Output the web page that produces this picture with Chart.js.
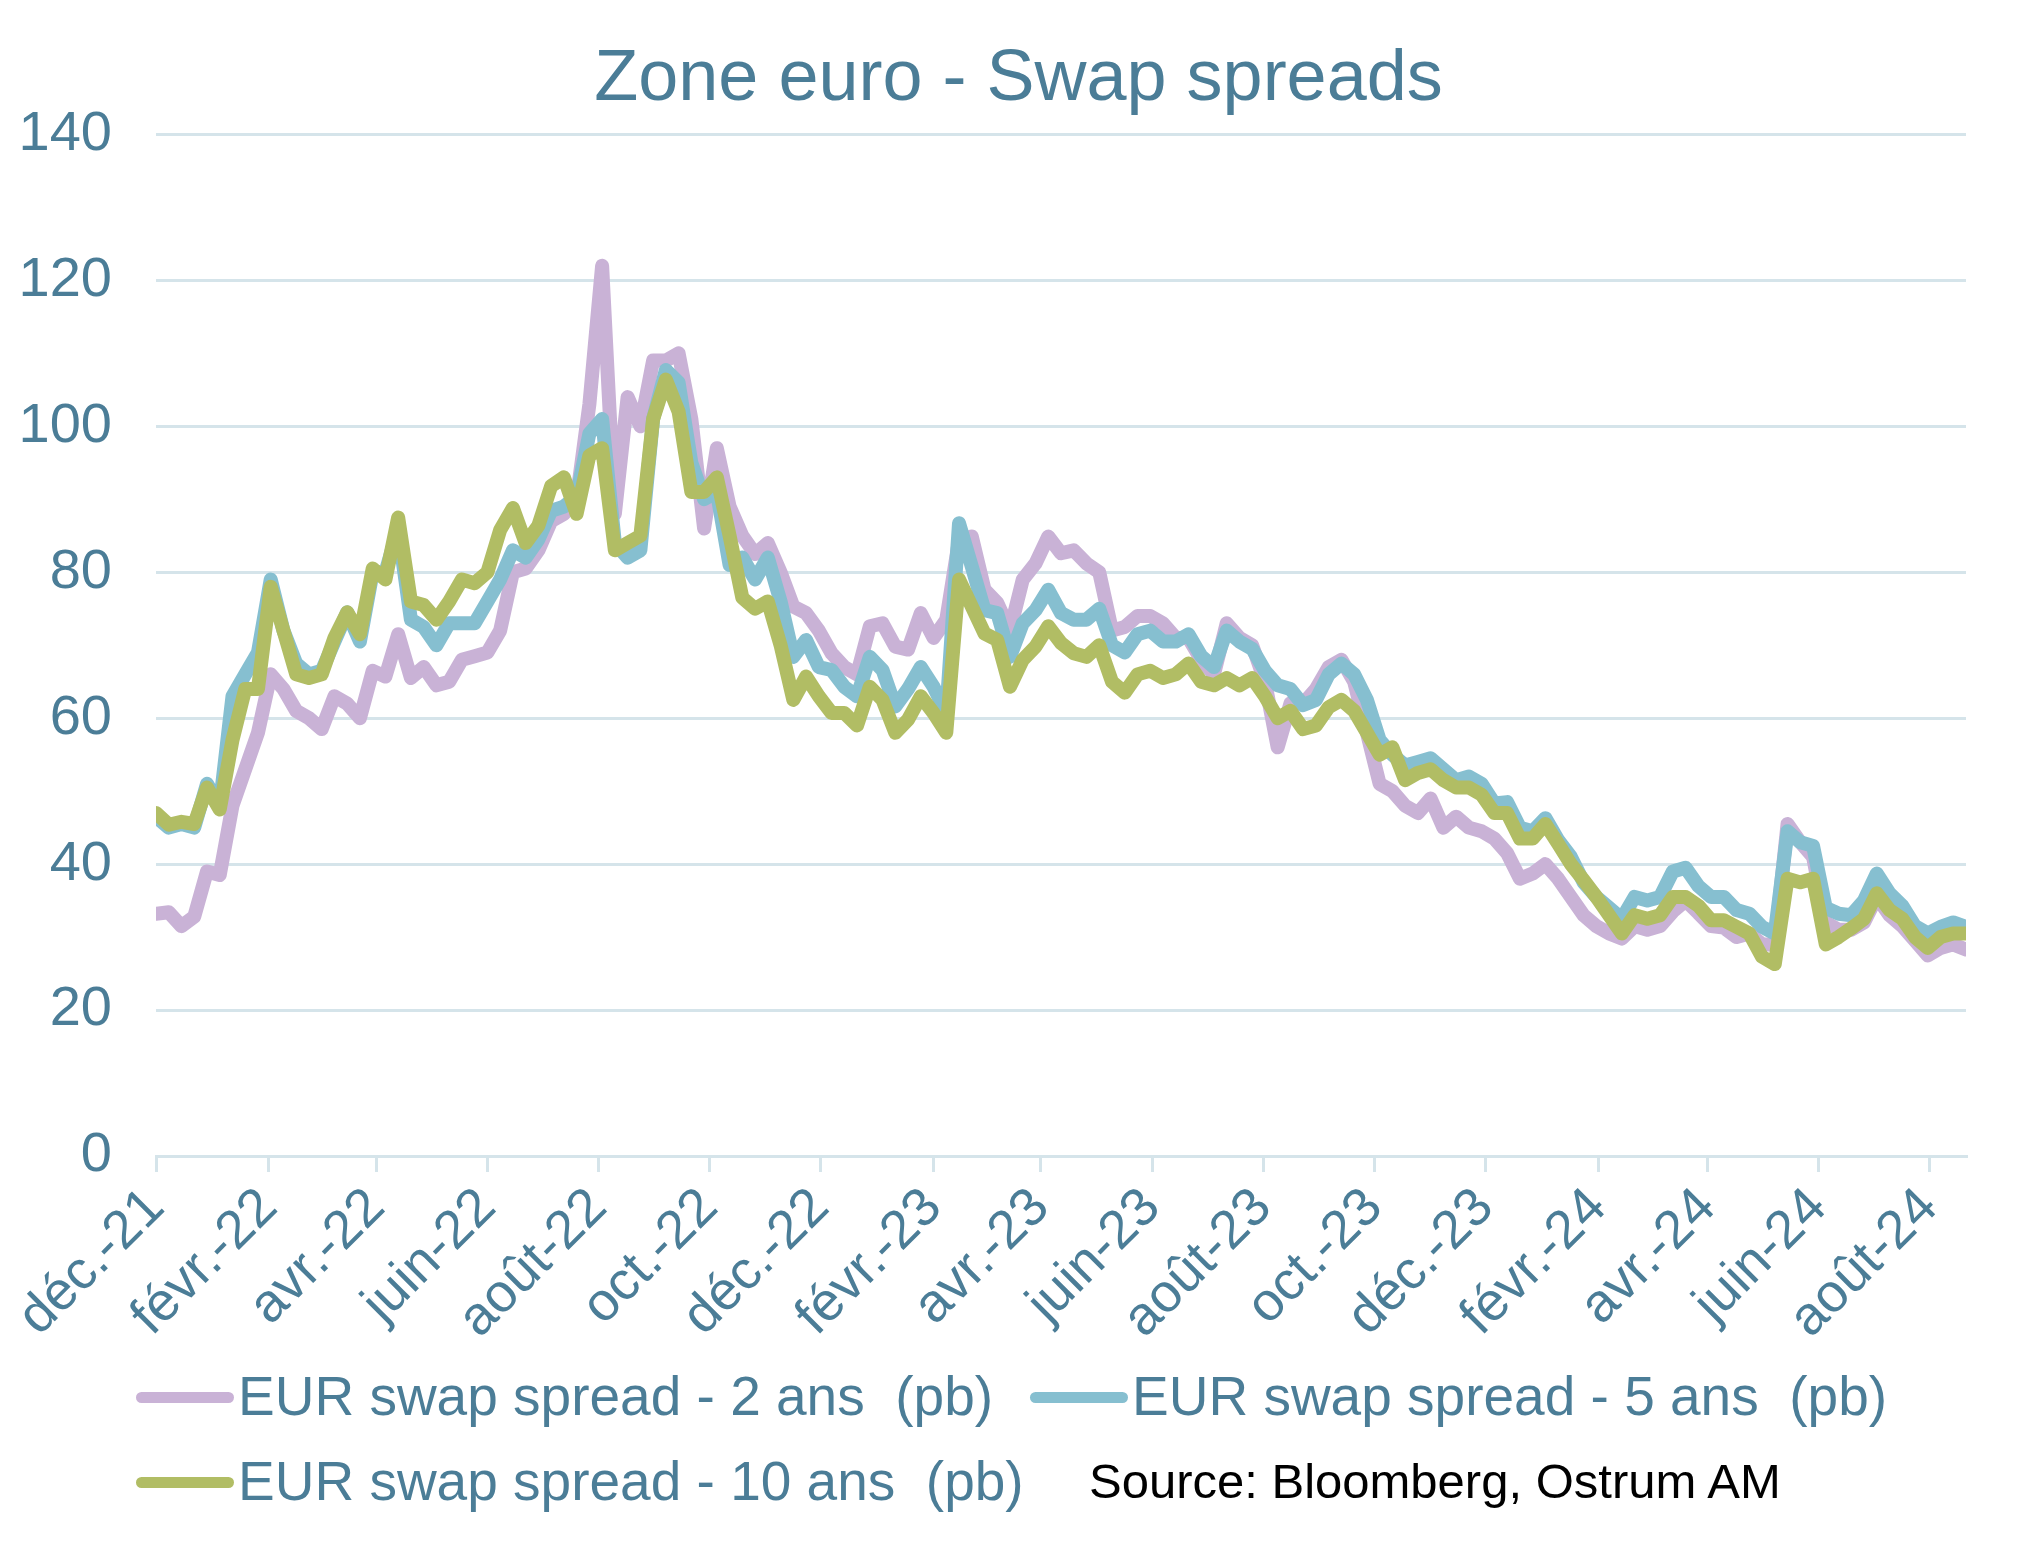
<!DOCTYPE html>
<html lang="fr">
<head>
<meta charset="utf-8">
<title>Zone euro - Swap spreads</title>
<script src="https://cdn.jsdelivr.net/npm/chart.js@4.4.1/dist/chart.umd.min.js"></script>
<style>
  html, body { margin: 0; padding: 0; background: #ffffff; }
  #wrap { position: relative; width: 2037px; height: 1549px; }
  .legend-item {
    position: absolute; height: 60px; line-height: 60px; white-space: pre;
    font-family: 'Liberation Sans', Arial, sans-serif; font-size: 55px; color: #4b7d97;
  }
  .legend-item .swatch {
    display: inline-block; width: 98px; height: 11px; border-radius: 6px;
    vertical-align: middle; margin-right: 4px; position: relative; top: -3px;
  }
  #source {
    position: absolute; height: 60px; line-height: 60px; white-space: pre;
    font-family: 'Liberation Sans', Arial, sans-serif; font-size: 49px; color: #000000;
  }
</style>
</head>
<body>
<div id="wrap">
  <canvas id="chart"></canvas>
</div>
<script>
// Weekly observations starting 1 Dec 2021 (day offsets from that date)
const startDate = Date.UTC(2021, 11, 1);
const weekDays = Array.from({ length: 143 }, (_, i) => i * 7);

// EUR swap spread - 2 ans (pb)
const spread2y = [
  33.2, 33.4, 31.5, 32.8, 39, 38.5, 48, 53, 58, 66,
  64, 61, 60, 58.5, 63, 62, 60, 66.5, 65.7, 71.5,
  65.5, 67, 64.5, 65, 68, 68.5, 69, 72, 80, 80.5,
  83, 87, 88, 90, 103, 122, 88, 104, 100, 109,
  109, 110, 101, 86, 97, 89, 85, 82.5, 84, 80,
  75.3, 74.4, 72, 68.9, 67, 66, 72.6, 73, 69.8, 69.4,
  74.4, 71, 73.5, 84.4, 84.9, 77.6, 75.8, 72, 79, 81.2,
  84.9, 82.6, 83, 81.2, 80, 72, 72.5, 74, 74, 73,
  71, 71, 68, 66, 73, 71, 70, 65, 56, 62,
  62, 64, 67, 68, 65, 58, 51, 50, 48, 47,
  49, 45, 46.5, 45, 44.5, 43.5, 41.5, 38, 38.7, 40,
  38, 35.5, 33, 31.5, 30.5, 29.8, 31.5, 31, 31.5, 33.5,
  35, 33.3, 31.5, 31.3, 30, 30.5, 29, 29, 45.5, 43,
  41, 32, 31, 31, 32, 35.5, 33, 31.5, 29.5, 27.5,
  28.5, 29, 28.3
];

// EUR swap spread - 5 ans (pb)
const spread5y = [
  46.5, 45, 45.5, 45, 51, 48, 63, 66, 69, 79,
  72, 67.5, 66, 66.5, 70.5, 74.5, 70.5, 80, 80, 86,
  73.5, 72.5, 70, 73, 73, 73, 76, 79, 83, 82,
  84.5, 88.4, 89, 90.4, 99, 101, 84, 82, 83, 101,
  107.7, 106, 95, 90, 91, 81, 82, 79, 82, 76,
  68.4, 70.7, 67, 66.6, 64.3, 63, 68.4, 66.6, 61.6, 64,
  67, 64.3, 60.7, 86.7, 80.8, 74.8, 74.4, 68.4, 73, 74.8,
  77.6, 74.4, 73.5, 73.5, 75, 70, 69, 71.5, 72, 70.5,
  70.5, 71.5, 68.5, 67, 72, 70.5, 69.5, 66.5, 64.5, 64,
  61.8, 62.5, 66, 67.5, 66, 62.5, 57, 55, 53.5, 54,
  54.5, 53, 51.5, 52, 51, 48.3, 48.5, 45, 44.5, 46.3,
  43.3, 41, 37.5, 35.5, 34, 32.5, 35.5, 35, 35.5, 39,
  39.5, 37, 35.5, 35.5, 33.7, 33.2, 31.4, 30.5, 44.5, 43,
  42.5, 34, 33.2, 33, 35, 38.7, 36, 34.3, 31.5, 30.5,
  31.4, 32, 31.4
];

// EUR swap spread - 10 ans (pb)
const spread10y = [
  47, 45.4, 45.8, 45.5, 50.5, 47.5, 57, 64, 64, 78,
  72, 66, 65.5, 66, 71, 74.5, 71.5, 80.5, 79, 87.5,
  76, 75.5, 73.5, 76, 79, 78.5, 80, 85.8, 88.8, 84,
  86.4, 91.8, 93, 88, 96, 97, 83, 84, 85, 101,
  106.4, 102, 91, 91, 93, 85, 76.5, 75, 76, 70,
  62.5, 65.7, 63, 60.7, 60.7, 59, 64.3, 62.5, 58, 59.8,
  63, 60.7, 58, 79, 75.3, 71.6, 70.7, 64.3, 68, 69.8,
  72.6, 70.3, 68.9, 68.4, 70, 65, 63.5, 66, 66.5, 65.5,
  66, 67.5, 65, 64.5, 65.5, 64.5, 65.5, 63, 60, 61,
  58.5, 59, 61.5, 62.5, 61, 58, 55, 56, 51.5, 52.5,
  53, 51.5, 50.5, 50.5, 49.5, 47, 47, 43.5, 43.5, 45.5,
  42.8, 40, 37.8, 35.5, 33, 30.5, 33, 32.5, 33, 35.5,
  35.5, 34.3, 32.3, 32.3, 31.4, 30.5, 27.3, 26.3, 38, 37.5,
  38, 29, 30, 31.2, 32.5, 36, 33.7, 32.5, 30, 28.5,
  30, 30.5, 30.5
];

// Axis tick labels, one every two months from Dec 2021
const tickLabels = [
  'déc.-21', 'févr.-22', 'avr.-22', 'juin-22', 'août-22', 'oct.-22',
  'déc.-22', 'févr.-23', 'avr.-23', 'juin-23', 'août-23', 'oct.-23',
  'déc.-23', 'févr.-24', 'avr.-24', 'juin-24', 'août-24'
];
const yTicks = [0, 20, 40, 60, 80, 100, 120, 140];

const seriesNames = [
  'EUR swap spread - 2 ans  (pb)',
  'EUR swap spread - 5 ans  (pb)',
  'EUR swap spread - 10 ans  (pb)'
];
const seriesColors = ['#c9b2d6', '#86bfd0', '#b1bd64'];

const textColor = '#4b7d97';
const gridColor = '#d5e4ea';
const fontFamily = "'Liberation Sans', Arial, sans-serif";

// Day offsets of the month starts used as x ticks
const tickDays = tickLabels.map((_, i) => (Date.UTC(2021, 11 + 2 * i, 1) - startDate) / 86400000);
const lastDay = weekDays[weekDays.length - 1];

function toPoints(values) {
  return values.map((v, i) => ({ x: weekDays[i], y: v }));
}

Chart.defaults.font.family = fontFamily;

const allSeries = [spread2y, spread5y, spread10y];
const datasets = allSeries.map((values, i) => ({
  label: seriesNames[i],
  data: toPoints(values),
  borderColor: seriesColors[i],
  backgroundColor: seriesColors[i],
  borderWidth: 14,
  pointRadius: 0,
  tension: 0,
  borderJoinStyle: 'round',
  borderCapStyle: 'round',
  order: 3 - i // 10 ans drawn on top
}));

new Chart(document.getElementById('chart'), {
  type: 'line',
  data: { datasets },
  options: {
    responsive: true,
    maintainAspectRatio: false,
    animation: false,
    layout: { padding: { left: 0, right: 0, top: 0, bottom: 203 } },
    plugins: {
      legend: { display: false },
      tooltip: { enabled: false },
      title: {
        display: true,
        text: 'Zone euro - Swap spreads',
        color: textColor,
        font: { size: 72, weight: 'normal' },
        padding: { top: 37, bottom: 11 }
      }
    },
    scales: {
      x: {
        type: 'linear',
        min: 0,
        max: lastDay,
        afterBuildTicks: (scale) => {
          scale.ticks = tickDays.map(v => ({ value: v }));
        },
        afterFit: (scale) => { scale.height = 190; },
        grid: { drawOnChartArea: false, drawTicks: true, tickLength: 16, color: gridColor, lineWidth: 3 },
        border: { color: gridColor, width: 3 },
        ticks: {
          autoSkip: false,
          minRotation: 45,
          maxRotation: 45,
          padding: 4,
          color: textColor,
          font: { size: 54 },
          callback: (value, index) => tickLabels[index]
        }
      },
      y: {
        min: 0,
        max: 140,
        afterBuildTicks: (scale) => {
          scale.ticks = yTicks.map(v => ({ value: v }));
        },
        afterFit: (scale) => { scale.width = 156; },
        grid: { color: gridColor, lineWidth: 3, drawTicks: false },
        border: { display: false },
        ticks: { padding: 44, color: textColor, font: { size: 56 } }
      },
      // empty right-hand strip so the plot stops short of the edge
      yRight: {
        position: 'right',
        min: 0,
        max: 140,
        afterFit: (scale) => { scale.width = 71; },
        grid: { display: false },
        border: { display: false },
        ticks: { display: false }
      }
    }
  }
});

// Legend and source line below the chart
const wrap = document.getElementById('wrap');
const legendSlots = [
  { left: 136, top: 1366 },
  { left: 1030, top: 1366 },
  { left: 136, top: 1451 }
];
seriesNames.forEach((name, i) => {
  const item = document.createElement('div');
  item.className = 'legend-item';
  item.style.left = legendSlots[i].left + 'px';
  item.style.top = legendSlots[i].top + 'px';
  const sw = document.createElement('span');
  sw.className = 'swatch';
  sw.style.background = seriesColors[i];
  item.appendChild(sw);
  item.appendChild(document.createTextNode(name));
  wrap.appendChild(item);
});
const source = document.createElement('div');
source.id = 'source';
source.style.left = '1089px';
source.style.top = '1451px';
source.textContent = 'Source: Bloomberg, Ostrum AM';
wrap.appendChild(source);
</script>
</body>
</html>
